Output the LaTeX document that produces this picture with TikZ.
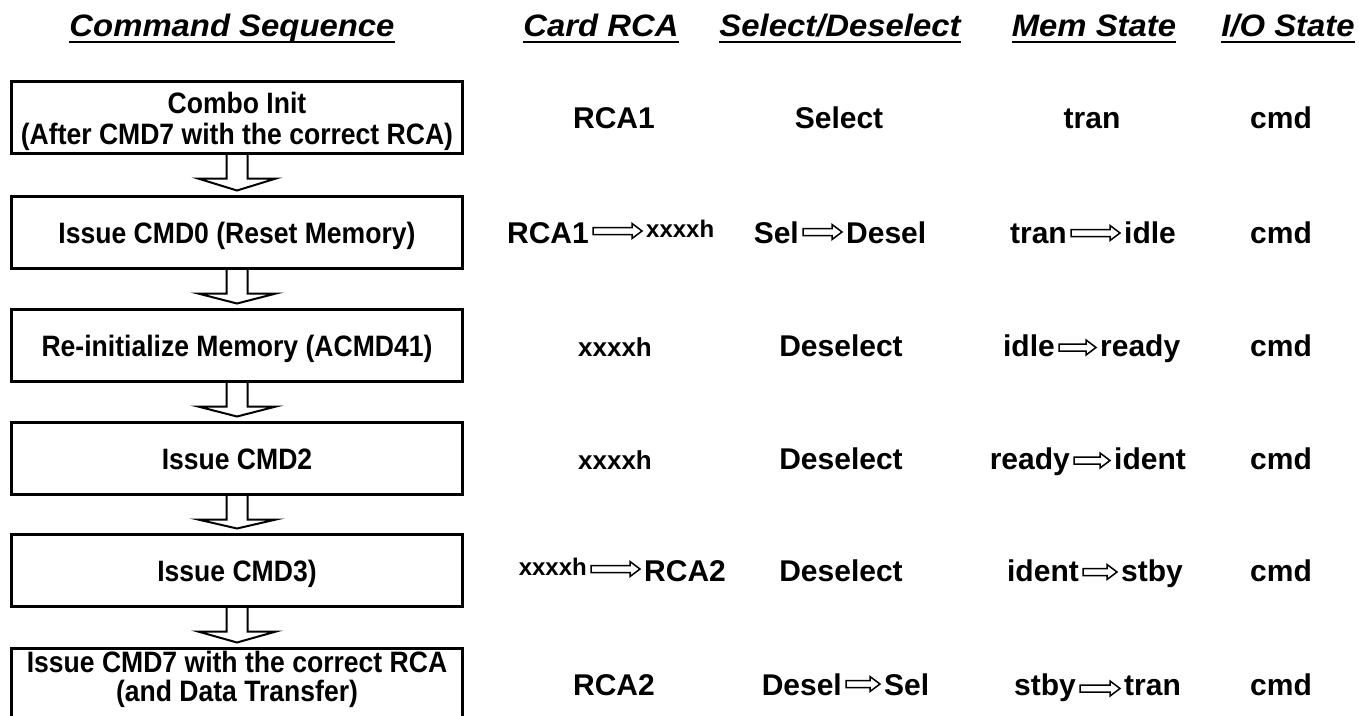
\documentclass[tikz,border=0pt]{standalone}
\usepackage{fontspec}
\setmainfont{Liberation Sans}
\newfontfamily\boxfont{Liberation Sans}[FakeStretch=0.9]
\newfontfamily\headfont{Liberation Sans}[FakeStretch=1.06]
\usetikzlibrary{calc}
\newcommand{\harr}[3]{%
  \draw[harrowstyle] let \p1=(#1.base east), \p2=(#2.base west) in
    (\x1+4pt,\y1+#3pt+3.5pt) -- (\x2-14pt,\y1+#3pt+3.5pt) -- (\x2-14pt,\y1+#3pt+7.5pt)
    -- (\x2-4pt,\y1+#3pt) -- (\x2-14pt,\y1+#3pt-7.5pt) -- (\x2-14pt,\y1+#3pt-3.5pt)
    -- (\x1+4pt,\y1+#3pt-3.5pt) -- cycle;}
\begin{document}
\begin{tikzpicture}[x=1pt,y=-1pt,
  stepbox/.style={draw, line width=3pt, minimum width=451pt, minimum height=72pt,
    inner sep=0pt},
  boxtxt/.style={inner sep=0pt, anchor=base,
    font=\boxfont\bfseries\fontsize{29.5}{33}\selectfont},
  blockarr/.style={draw, line width=2pt, line join=miter},
  harrowstyle/.style={draw, line width=1.5pt, fill=white, line join=miter},
  hdr/.style={inner sep=0pt, anchor=base,
    font=\headfont\bfseries\itshape\fontsize{31}{36}\selectfont},
  rowtxt/.style={inner sep=0pt, font=\bfseries\fontsize{30}{36}\selectfont},
  midtxt/.style={inner sep=0pt, font=\bfseries\fontsize{26}{30}\selectfont},
  smalltxt/.style={inner sep=0pt, font=\bfseries\fontsize{24}{28}\selectfont},
  uline/.style={line width=2.5pt}]
\clip (0,0) rectangle (1359,715);
\fill[white] (0,0) rectangle (1359,715);

% headers
\node[hdr] (h1) at (232,36) {Command Sequence};
\node[hdr] (h2) at (601,36) {Card RCA};
\node[hdr] (h3) at (840,36) {Select/Deselect};
\node[hdr] (h4) at (1094,36) {Mem State};
\node[hdr] (h5) at (1288,36) {I/O State};
\foreach \h in {h1,h2,h3,h4,h5}
  \draw[uline] ($(\h.base west)+(0,6)$) -- ($(\h.base east)+(0,6)$);

% command boxes
\node[stepbox] (b1) at (237,117.5) {};
\node[stepbox] (b2) at (237,232.5) {};
\node[stepbox] (b3) at (237,345.5) {};
\node[stepbox] (b4) at (237,458.5) {};
\node[stepbox] (b5) at (237,570.5) {};
\node[stepbox] (b6) at (237,684.5) {};

\node[boxtxt] (t1a) at (237,113) {Combo Init};
\node[boxtxt] (t1b) at (237,144) {(After CMD7 with the correct RCA)};
\node[boxtxt] (t2) at (237,243.5) {Issue CMD0 (Reset Memory)};
\node[boxtxt] (t3) at (237,356.5) {Re-initialize Memory (ACMD41)};
\node[boxtxt] (t4) at (237,469.5) {Issue CMD2};
\node[boxtxt] (t5) at (237,581.5) {Issue CMD3)};
\node[boxtxt] (t6a) at (237,672) {Issue CMD7 with the correct RCA};
\node[boxtxt] (t6b) at (237,701) {(and Data Transfer)};

\foreach \a/\b in {b1/b2,b2/b3,b3/b4,b4/b5,b5/b6}
  \draw[blockarr] ($(\a.south)+(-10.5,0)$) -- ($(\a.south)+(-10.5,23.5)$)
    -- ($(\a.south)+(-39,23.5)$) -- ($(\b.north)+(0,-4.5)$)
    -- ($(\a.south)+(39,23.5)$) -- ($(\a.south)+(10.5,23.5)$)
    -- ($(\a.south)+(10.5,0)$);

% row 1
\node[rowtxt, anchor=base] (r1a) at (614,128) {RCA1};
\node[rowtxt, anchor=base] (r1b) at (839,128) {Select};
\node[rowtxt, anchor=base] (r1c) at (1092,128) {tran};
\node[rowtxt, anchor=base] (r1d) at (1281,128) {cmd};

% row 2
\node[rowtxt, anchor=base east] (r2a1) at (589,243) {RCA1};
\node[smalltxt, anchor=base west] (r2a2) at (646,237) {xxxxh};
\harr{r2a1}{r2a2}{12}
\node[rowtxt, anchor=base east] (r2b1) at (799,243) {Sel};
\node[rowtxt, anchor=base west] (r2b2) at (846,243) {Desel};
\harr{r2b1}{r2b2}{11}
\node[rowtxt, anchor=base east] (r2c1) at (1067,243) {tran};
\node[rowtxt, anchor=base west] (r2c2) at (1124,243) {idle};
\harr{r2c1}{r2c2}{10}
\node[rowtxt, anchor=base] (r2d) at (1281,243) {cmd};

% row 3
\node[midtxt, anchor=base] (r3a) at (615,356) {xxxxh};
\node[rowtxt, anchor=base] (r3b) at (841,356) {Deselect};
\node[rowtxt, anchor=base east] (r3c1) at (1055,356) {idle};
\node[rowtxt, anchor=base west] (r3c2) at (1100,356) {ready};
\harr{r3c1}{r3c2}{8.5}
\node[rowtxt, anchor=base] (r3d) at (1281,356) {cmd};

% row 4
\node[midtxt, anchor=base] (r4a) at (615,469) {xxxxh};
\node[rowtxt, anchor=base] (r4b) at (841,469) {Deselect};
\node[rowtxt, anchor=base east] (r4c1) at (1070,469) {ready};
\node[rowtxt, anchor=base west] (r4c2) at (1114,469) {ident};
\harr{r4c1}{r4c2}{8.5}
\node[rowtxt, anchor=base] (r4d) at (1281,469) {cmd};

% row 5
\node[smalltxt, anchor=base east] (r5a1) at (587,575) {xxxxh};
\node[rowtxt, anchor=base west] (r5a2) at (644,581) {RCA2};
\harr{r5a1}{r5a2}{6}
\node[rowtxt, anchor=base] (r5b) at (841,581) {Deselect};
\node[rowtxt, anchor=base east] (r5c1) at (1079,581) {ident};
\node[rowtxt, anchor=base west] (r5c2) at (1121,581) {stby};
\harr{r5c1}{r5c2}{9}
\node[rowtxt, anchor=base] (r5d) at (1281,581) {cmd};

% row 6
\node[rowtxt, anchor=base] (r6a) at (614,695) {RCA2};
\node[rowtxt, anchor=base east] (r6b1) at (842,695) {Desel};
\node[rowtxt, anchor=base west] (r6b2) at (884,695) {Sel};
\harr{r6b1}{r6b2}{11}
\node[rowtxt, anchor=base east] (r6c1) at (1076,695) {stby};
\node[rowtxt, anchor=base west] (r6c2) at (1124,695) {tran};
\harr{r6c1}{r6c2}{6.5}
\node[rowtxt, anchor=base] (r6d) at (1281,695) {cmd};
\end{tikzpicture}
\end{document}
